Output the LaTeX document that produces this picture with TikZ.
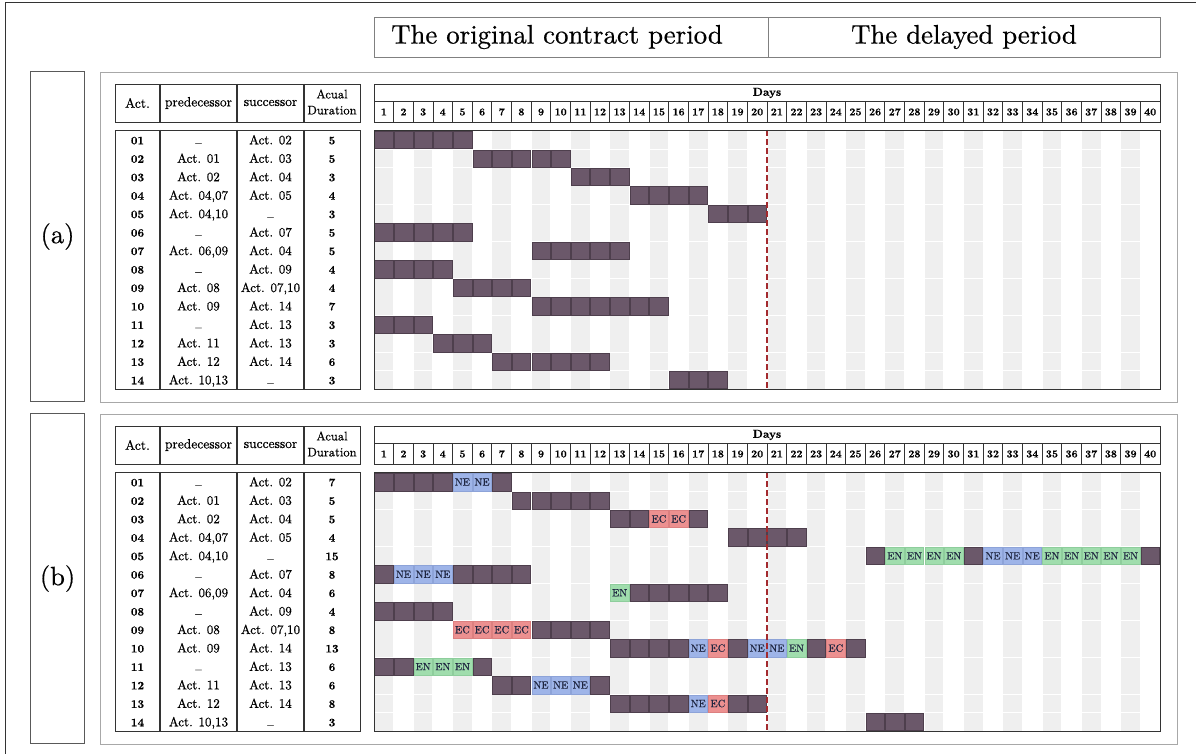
\documentclass[tikz,border=0pt]{standalone}
\usepackage{fontspec}
\setmainfont{lmroman10-regular.otf}[UprightFeatures={FakeBold=0.5},BoldFont=lmroman10-bold.otf,BoldFeatures={FakeBold=0.3},ItalicFont=lmroman10-italic.otf]
\definecolor{barP}{HTML}{6B586A}
\definecolor{barPd}{HTML}{4E3F4D}
\definecolor{barN}{HTML}{9EB4E8}
\definecolor{barNd}{HTML}{8DA3D8}
\definecolor{barC}{HTML}{EC9090}
\definecolor{barCd}{HTML}{DC8080}
\definecolor{barG}{HTML}{A0DDAD}
\definecolor{barGd}{HTML}{8ECD9C}
\definecolor{stripe}{HTML}{EFEFEF}
\definecolor{delayred}{HTML}{A32A2E}
\definecolor{celltxt}{HTML}{1E2540}
\definecolor{linedark}{HTML}{333333}
\definecolor{panelgray}{HTML}{A8A8A8}
\newcommand\nodash{\raisebox{-2.6pt}{\textendash}}
\newcommand\gcell[5]{\node[cellbox,name=cell#1-#3-#4,at={({374+(#4-0.5)*19.65},{140+(#3-1)*18.46+#2})},c#5];}
\begin{document}
\begin{tikzpicture}[x=1pt,y=-1pt,
  frame/.style={draw=linedark,line width=1pt},
  titlebox/.style={draw=gray,line width=0.8pt,inner sep=0pt,rectangle},
  titlefont/.style={font=\fontsize{26.8}{30}\selectfont,inner sep=0pt},
  labbox/.style={draw=black!65,line width=1.1pt,inner sep=0pt,minimum width=54,minimum height=330,rectangle},
  panelbox/.style={draw=panelgray,line width=1.2pt,inner sep=0pt,minimum width=1077,minimum height=330,rectangle},
  labfont/.style={font=\fontsize{26.5}{30}\selectfont},
  tline/.style={draw=linedark,line width=1.1pt},
  thead/.style={font=\fontsize{13.5}{16}\selectfont,inner sep=0pt,align=center},
  tbody/.style={font=\fontsize{13}{14}\selectfont,inner sep=0pt,anchor=base},
  tbold/.style={font=\fontsize{11.5}{12}\selectfont\bfseries,inner sep=0pt,anchor=base},
  daynum/.style={font=\fontsize{10.5}{11}\selectfont\bfseries,inner sep=0pt},
  daysfont/.style={font=\fontsize{11.5}{12}\selectfont\bfseries,inner sep=0pt},
  cellbox/.style={rectangle,inner sep=0pt,minimum width=18.6,minimum height=17.4,line width=0.4pt,
     font=\fontsize{10.5}{11}\selectfont,text=celltxt},
  cP/.style={fill=barP,draw=barPd,node contents={}},
  cNE/.style={fill=barN,draw=barNd,node contents={NE}},
  cEC/.style={fill=barC,draw=barCd,node contents={EC}},
  cEN/.style={fill=barG,draw=barGd,node contents={EN}},
  delay/.style={draw=delayred,line width=1.8pt,dash pattern=on 6pt off 3pt}]
\useasboundingbox (0,0) rectangle (1196,754);
\fill[white] (0,0) rectangle (1196,754);
\draw[frame] (5,3) rectangle (1215,770);

% title boxes
\node[titlebox,minimum width=394,minimum height=40,anchor=north west] (origbox) at (374,17) {};
\node[titlebox,minimum width=392,minimum height=40,anchor=north west] (delbox) at (768,17) {};
\node[titlefont] (origtxt) at (557,37) {The original contract period};
\node[titlefont] (deltxt) at (964,37) {The delayed period};

% panel structures
\foreach \tag/\oy/\lab/\ly in {a/0/(a)/71,b/342/(b)/413}{
  \node[labbox,anchor=north west] (lab\tag) at (30,\ly) {};
  \node[labfont] (labt\tag) at (lab\tag.center) {\lab};
  \node[panelbox,anchor=north west] (panel\tag) at (100,\ly+1) {};
  % table header
  \node[rectangle,tline,inner sep=0pt,minimum width=245,minimum height=38,anchor=north west] (thead\tag) at (115,84+\oy) {};
  \foreach \cx in {160,237,304}{\draw[tline] (\cx,84+\oy) -- (\cx,122+\oy);}
  \node[thead] (hact\tag) at (137.5,103+\oy) {Act.};
  \node[thead] (hpre\tag) at (198.5,103+\oy) {predecessor};
  \node[thead] (hsuc\tag) at (270.5,103+\oy) {successor};
  \node[thead,font=\fontsize{12.5}{16}\selectfont] (hdur\tag) at (332,102+\oy) {Acual\\Duration};
  % table body
  \node[rectangle,tline,inner sep=0pt,minimum width=245,minimum height=259,anchor=north west] (tbody\tag) at (115,130+\oy) {};
  \foreach \cx in {160,237,304}{\draw[tline] (\cx,130+\oy) -- (\cx,389+\oy);}
  % chart header
  \node[rectangle,tline,inner sep=0pt,minimum width=786,minimum height=38,anchor=north west] (chead\tag) at (374,84+\oy) {};
  \draw[tline] (374,101.5+\oy) -- (1160,101.5+\oy);
  \foreach \k in {1,...,39}{\draw[tline,line width=0.9pt] ({374+\k*19.65},101.5+\oy) -- ({374+\k*19.65},122+\oy);}
  \node[daysfont] (days\tag) at (767,93+\oy) {Days};
  \foreach \k in {1,...,40}{\node[daynum] (day\tag\k) at ({374+(\k-0.5)*19.65},112+\oy) {\k};}
  % stripes
  \foreach \k in {1,3,...,39}{
    \foreach \rw in {1,...,14}{
      \fill[stripe] ({374+(\k-1)*19.65+0.5},{140+(\rw-1)*18.46-8.9+\oy}) rectangle ++(18.65,17.8);
    }
  }
}

% table data
\foreach \rw/\act/\pre/\suc/\da/\db in {
  1/01/\nodash/{Act. 02}/5/7,
  2/02/{Act. 01}/{Act. 03}/5/5,
  3/03/{Act. 02}/{Act. 04}/3/5,
  4/04/{Act. 04,07}/{Act. 05}/4/4,
  5/05/{Act. 04,10}/\nodash/3/15,
  6/06/\nodash/{Act. 07}/5/8,
  7/07/{Act. 06,09}/{Act. 04}/5/6,
  8/08/\nodash/{Act. 09}/4/4,
  9/09/{Act. 08}/{Act. 07,10}/4/8,
  10/10/{Act. 09}/{Act. 14}/7/13,
  11/11/\nodash/{Act. 13}/3/6,
  12/12/{Act. 11}/{Act. 13}/3/6,
  13/13/{Act. 12}/{Act. 14}/6/8,
  14/14/{Act. 10,13}/\nodash/3/3}{
  \pgfmathsetmacro\yy{140+(\rw-1)*18.46+4.3}
  \foreach \tag/\oy/\dd in {a/0/\da,b/342/\db}{
    \node[tbold] (act\tag\rw) at (137.5,\yy+\oy) {\act};
    \node[tbody] (pre\tag\rw) at (198.5,\yy+\oy) {\pre};
    \node[tbody] (suc\tag\rw) at (270.5,\yy+\oy) {\suc};
    \node[tbold] (dur\tag\rw) at (332,\yy+\oy) {\dd};
  }
}

% bars panel (a)
\foreach \rw/\st/\en in {1/1/5,2/6/10,3/11/13,4/14/17,5/18/20,6/1/5,7/9/13,8/1/4,9/5/8,10/9/15,11/1/3,12/4/6,13/7/12,14/16/18}{
  \foreach \dy in {\st,...,\en}{\edef\tmp{\noexpand\gcell{a}{0}{\rw}{\dy}{P}}\tmp}
}

% bars panel (b)
\foreach \rw/\st/\en/\ty in {
  1/1/4/P,1/5/6/NE,1/7/7/P,
  2/8/12/P,
  3/13/14/P,3/15/16/EC,3/17/17/P,
  4/19/22/P,
  5/26/26/P,5/27/30/EN,5/31/31/P,5/32/34/NE,5/35/39/EN,5/40/40/P,
  6/1/1/P,6/2/4/NE,6/5/8/P,
  7/13/13/EN,7/14/18/P,
  8/1/4/P,
  9/5/8/EC,9/9/12/P,
  10/13/16/P,10/17/17/NE,10/18/18/EC,10/19/19/P,10/20/21/NE,10/22/22/EN,10/23/23/P,10/24/24/EC,10/25/25/P,
  11/1/2/P,11/3/5/EN,11/6/6/P,
  12/7/8/P,12/9/11/NE,12/12/12/P,
  13/13/16/P,13/17/17/NE,13/18/18/EC,13/19/20/P,
  14/26/28/P}{
  \foreach \dy in {\st,...,\en}{\edef\tmp{\noexpand\gcell{b}{342}{\rw}{\dy}{\ty}}\tmp}
}

% delay lines and chart borders
\foreach \tag/\oy in {a/0,b/342}{
  \coordinate (dtop\tag) at (767,130+\oy);
  \coordinate (dbot\tag) at (767,389+\oy);
  \draw[delay] (dtop\tag) -- (dbot\tag);
  \node[rectangle,tline,inner sep=0pt,minimum width=786,minimum height=259,anchor=north west] (cbody\tag) at (374,130+\oy) {};
}
\end{tikzpicture}
\end{document}
